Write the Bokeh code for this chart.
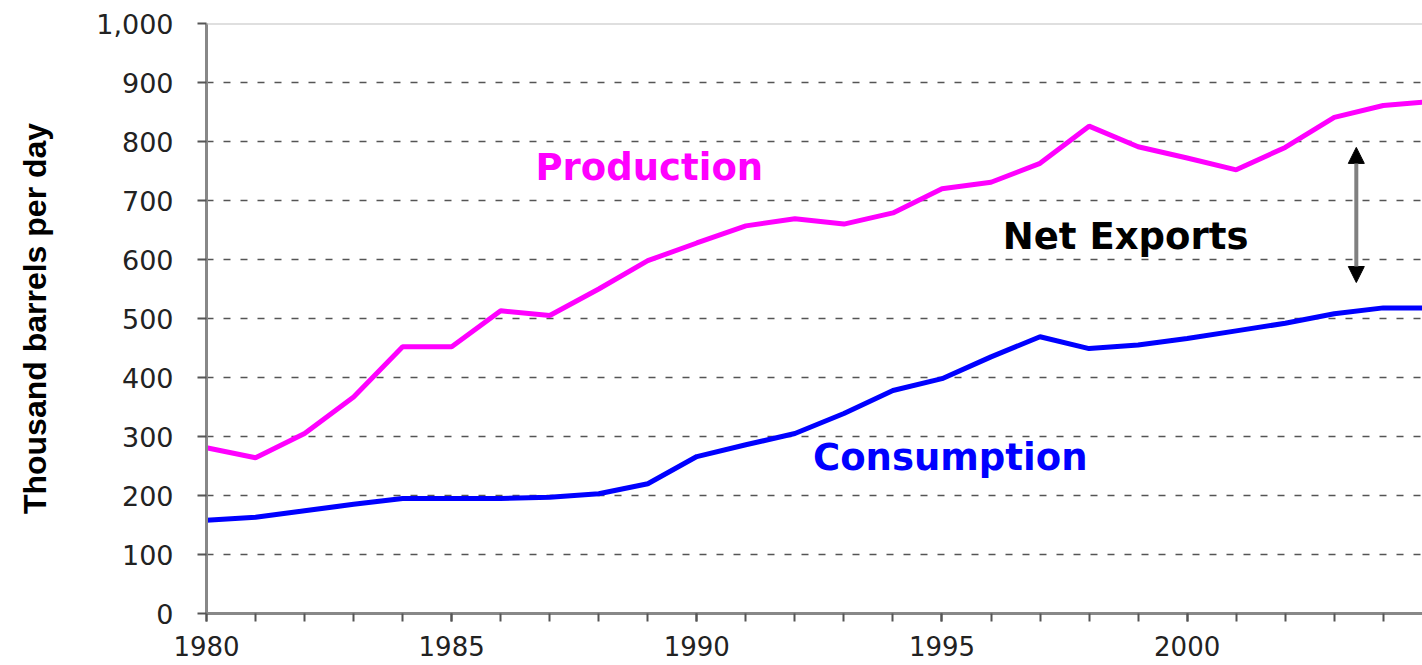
from bokeh.plotting import figure
from bokeh.models import (Range1d, SingleIntervalTicker, FixedTicker, NumeralTickFormatter,
                          Label, Arrow, NormalHead, Span, ColumnDataSource)
from bokeh.embed import file_html
from bokeh.resources import INLINE

# ---- data (thousand barrels per day) ----
years = list(range(1980, 2006))
production = [281, 264, 305, 367, 452, 452, 513, 505, 550, 598, 628, 657, 669, 660, 679, 720, 731, 763, 826, 791, 772, 752, 790, 841, 861, 868]
consumption = [158, 163, 174, 185, 195, 195, 195, 197, 203, 220, 266, 286, 305, 339, 378, 398, 435, 469, 449, 455, 466, 479, 492, 508, 518, 518]

y_ticks = [0, 100, 200, 300, 400, 500, 600, 700, 800, 900, 1000]
grid_levels = [100, 200, 300, 400, 500, 600, 700, 800, 900]

labels = ["Production", "Net Exports", "Consumption"]
label_x = [1986.71, 1996.24, 1992.37]
label_y = [756, 639, 264]
label_colors = ["#ff00ff", "#000000", "#0000ff"]

arrow_x = 2003.45
arrow_top = 790
arrow_bottom = 561

src = ColumnDataSource(dict(year=years, production=production, consumption=consumption))

p = figure(width=1422, height=665, output_backend="svg", toolbar_location=None,
           x_range=Range1d(1980, 2004.8), y_range=Range1d(0, 1000),
           min_border_left=206, min_border_right=0, min_border_top=23, min_border_bottom=52)
p.outline_line_color = None
p.background_fill_color = "white"
p.border_fill_color = "white"

# grid
p.xgrid.visible = False
p.ygrid.ticker = FixedTicker(ticks=grid_levels)
p.ygrid.grid_line_color = "#555555"
p.ygrid.grid_line_width = 1.5
p.ygrid.grid_line_dash = "7 10"
p.add_layout(Span(location=1000, dimension="width", line_color="#c0c0c0", line_width=2))

# axes
p.yaxis.ticker = FixedTicker(ticks=y_ticks)
p.yaxis.formatter = NumeralTickFormatter(format="0,0")
p.yaxis.axis_line_color = "#888888"
p.yaxis.axis_line_width = 3
p.yaxis.major_tick_out = 9
p.yaxis.major_tick_in = 0
p.yaxis.major_tick_line_color = "#555555"
p.yaxis.major_tick_line_width = 2
p.yaxis.minor_tick_line_color = None
p.yaxis.major_label_standoff = 24
p.yaxis.major_label_text_font = "DejaVu Sans"
p.yaxis.major_label_text_font_size = "27px"
p.yaxis.major_label_text_color = "#222222"
p.yaxis.axis_label = "Thousand barrels per day"
p.yaxis.axis_label_text_font = "Liberation Sans"
p.yaxis.axis_label_text_font_style = "bold"
p.yaxis.axis_label_text_font_size = "32px"
p.yaxis.axis_label_text_color = "#000000"
p.yaxis.axis_label_standoff = 40

p.xaxis.ticker = SingleIntervalTicker(interval=5, num_minor_ticks=5)
p.xaxis.axis_line_color = "#888888"
p.xaxis.axis_line_width = 3
p.xaxis.major_tick_out = 8
p.xaxis.major_tick_in = 0
p.xaxis.minor_tick_out = 8
p.xaxis.minor_tick_in = 0
p.xaxis.major_tick_line_color = "#555555"
p.xaxis.minor_tick_line_color = "#555555"
p.xaxis.major_label_standoff = 14
p.xaxis.major_tick_line_width = 2
p.xaxis.minor_tick_line_width = 2
p.xaxis.major_label_text_font = "DejaVu Sans"
p.xaxis.major_label_text_font_size = "26px"
p.xaxis.major_label_text_color = "#222222"

# lines
p.line("year", "production", source=src, line_color="#ff00ff", line_width=5)
p.line("year", "consumption", source=src, line_color="#0000ff", line_width=5)

# labels
for t, x, y, c in zip(labels, label_x, label_y, label_colors):
    p.add_layout(Label(x=x, y=y, text=t, text_color=c, text_font="DejaVu Sans",
                       text_font_style="bold", text_font_size="37px",
                       text_baseline="middle", text_align="left"))

# net exports arrow
p.add_layout(Arrow(x_start=arrow_x, y_start=arrow_bottom, x_end=arrow_x, y_end=arrow_top,
                   line_color="#808080", line_width=4,
                   start=NormalHead(size=16, fill_color="black", line_color="black"),
                   end=NormalHead(size=16, fill_color="black", line_color="black")))

open("out.html", "w").write(file_html(p, INLINE))
